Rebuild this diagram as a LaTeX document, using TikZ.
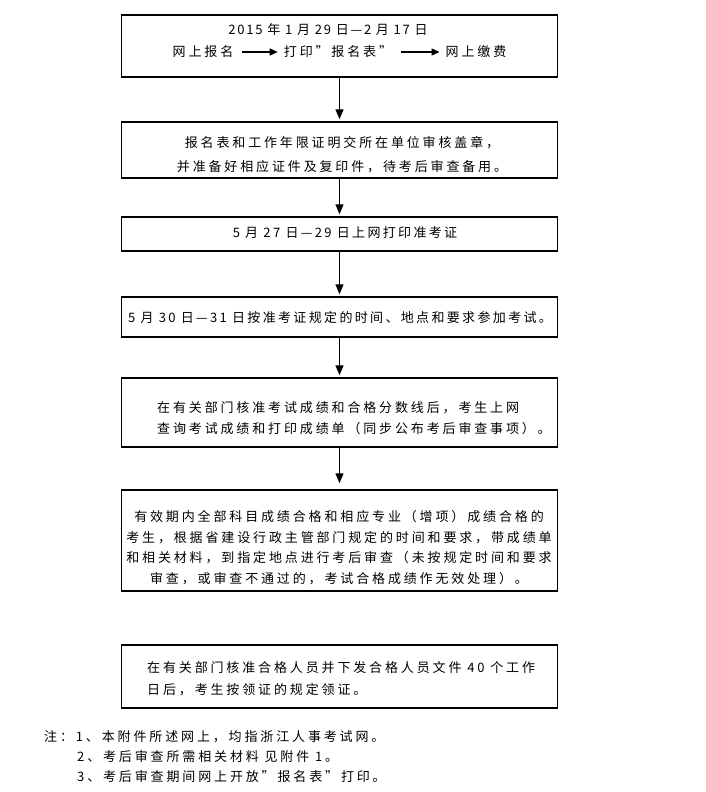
\documentclass[tikz,border=0pt]{standalone}
\usepackage{fontspec}
\newfontfamily\cjk[LetterSpace=22]{Noto Sans CJK SC}
\newfontfamily\cjkdate[LetterSpace=18]{Noto Sans CJK SC}
\newfontfamily\cjkyear[LetterSpace=14]{Noto Sans CJK SC}
\usetikzlibrary{arrows.meta}

\begin{document}
\begin{tikzpicture}[x=1pt, y=-1pt,
        stepbox/.style={draw, line width=1.5pt, inner sep=0pt, minimum width=436pt},
        words/.style={inner sep=0pt, align=center, font=\cjk\fontsize{13}{22}\selectfont},
        datewords/.style={words, font=\cjkdate\fontsize{13}{22}\selectfont},
        flow/.style={-{Triangle[width=8pt,length=10pt]}, line width=1.4pt, shorten >=2pt},
        inline/.style={-{Triangle[width=7pt,length=8pt]}, line width=1.2pt, shorten <=9pt, shorten >=6pt}]
                \useasboundingbox (0,0) rectangle (706,792);
                % Boxes, top to bottom:
                \node[stepbox, minimum height=62pt] (apply) at (339.5,46) {};
                \node[stepbox, minimum height=56pt] (seal) at (339.5,150) {};
                \node[stepbox, minimum height=34pt] (ticket) at (339.5,234) {};
                \node[stepbox, minimum height=40pt] (exam) at (339.5,317) {};
                \node[stepbox, minimum height=69pt] (score) at (339.5,412.5) {};
                \node[stepbox, minimum height=101pt] (review) at (339.5,540.5) {};
                \node[stepbox, minimum height=63pt] (cert) at (339.5,676.5) {};
                % Texts in the boxes:
                \node[words, font=\cjkyear\fontsize{13}{22}\selectfont] (dates) at (328,30) {2015 年 1 月 29 日—2 月 17 日};
                \node[words] (online) at (203,52) {网上报名};
                \node[words] (print) at (338,52) {打印”报名表”};
                \node[words] (pay) at (476,52) {网上缴费};
                \node[words, font=\cjk\fontsize{13}{24}\selectfont] (sealtext) at (342,155)
                    {报名表和工作年限证明交所在单位审核盖章，\\并准备好相应证件及复印件，待考后审查备用。};
                \node[datewords] (tickettext) at (345,233) {5 月 27 日—29 日上网打印准考证};
                \node[datewords] (examtext) at (340,318) {5 月 30 日—31 日按准考证规定的时间、地点和要求参加考试。};
                \node[words, align=left, anchor=west, font=\cjk\fontsize{13}{21}\selectfont] (scoretext) at (157,418)
                    {在有关部门核准考试成绩和合格分数线后，考生上网\\查询考试成绩和打印成绩单（同步公布考后审查事项）。};
                \node[words, font=\cjk\fontsize{13}{20.5}\selectfont] (reviewtext) at (339,547.5)
                    {有效期内全部科目成绩合格和相应专业（增项）成绩合格的\\考生，根据省建设行政主管部门规定的时间和要求，带成绩单\\和相关材料，到指定地点进行考后审查（未按规定时间和要求\\审查，或审查不通过的，考试合格成绩作无效处理）。};
                \node[words, align=left, anchor=west] (certtext) at (147,679)
                    {在有关部门核准合格人员并下发合格人员文件 40 个工作\\日后，考生按领证的规定领证。};
                % Notes:
                \node[words, anchor=west] (note1) at (44,737) {注：1、本附件所述网上，均指浙江人事考试网。};
                \node[words, anchor=west] (note2) at (77,757) {2、考后审查所需相关材料 见附件 1。};
                \node[words, anchor=west] (note3) at (77,777) {3、考后审查期间网上开放”报名表”打印。};
                % Arrows:
                \draw[inline] (online) -- (print);
                \draw[inline] (print) -- (pay);
                \draw[flow] (apply) -- (seal);
                \draw[flow] (seal) -- (ticket);
                \draw[flow] (ticket) -- (exam);
                \draw[flow] (exam) -- (score);
                \draw[flow, shorten >=6pt] (score) -- (review);
            \end{tikzpicture}
\end{document}
